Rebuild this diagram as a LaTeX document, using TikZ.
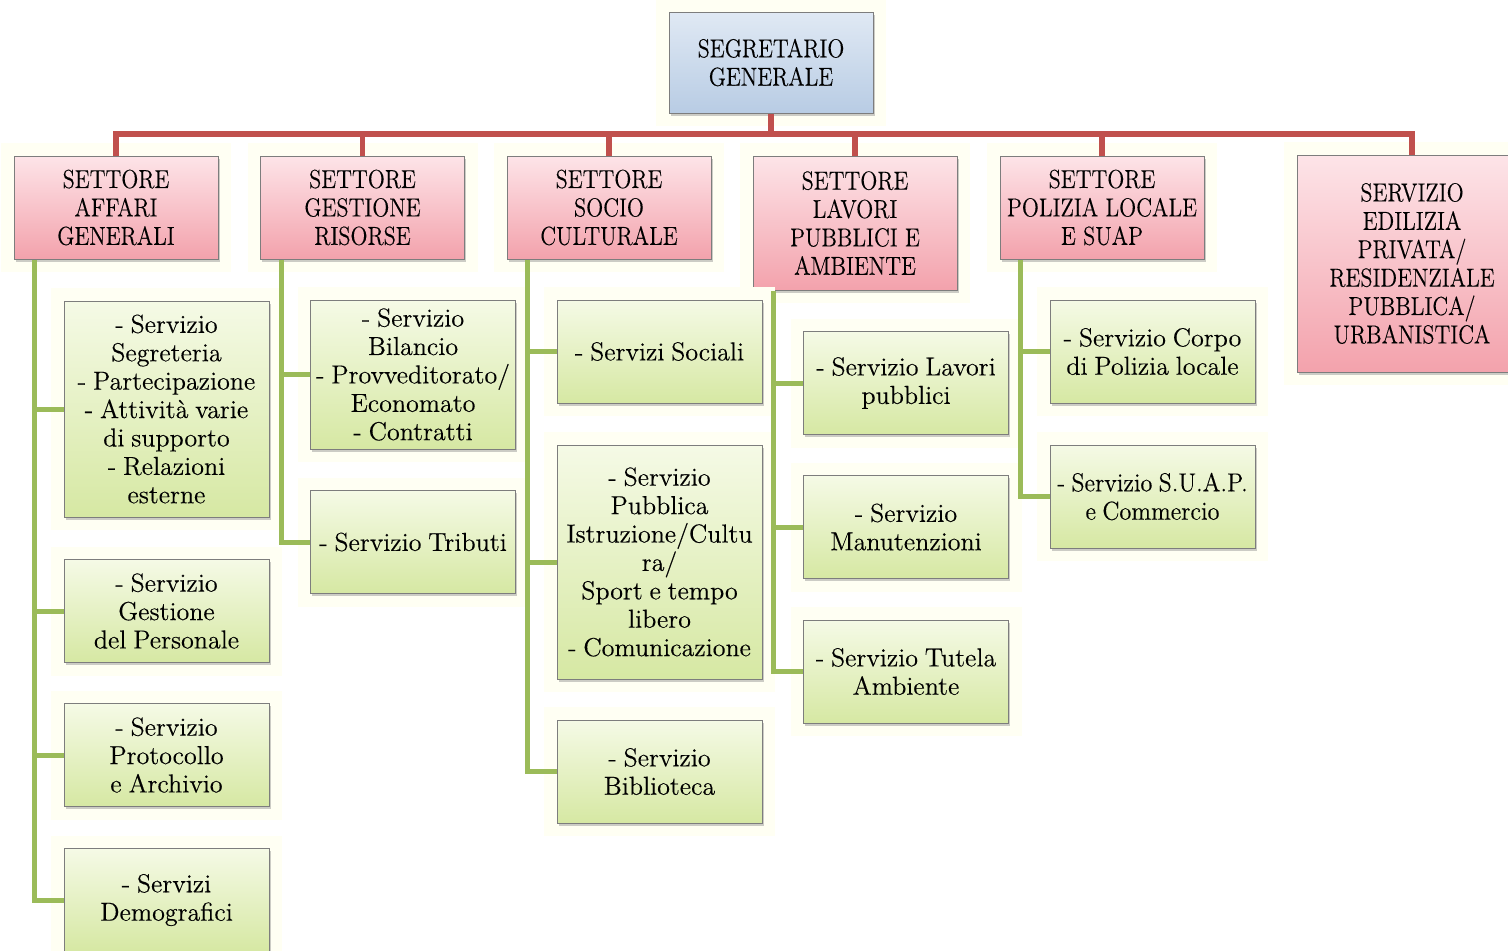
\documentclass[tikz,border=0pt]{standalone}
\usepackage{fontspec}
\setmainfont{Latin Modern Roman}[WordSpace=0.8, FakeBold=0.25]
\newfontfamily\capsfont{Latin Modern Roman}[FakeStretch=0.86, FakeBold=0.25]
\newfontfamily\narrowfont{Latin Modern Roman}[FakeStretch=0.93, WordSpace=0.8, FakeBold=0.25]
\usepackage{tikz}
\usetikzlibrary{positioning,shadows}
\definecolor{busred}{RGB}{192,80,77}
\definecolor{trunkgreen}{RGB}{155,187,89}
\definecolor{cream}{RGB}{255,255,243}
\definecolor{edgegray}{RGB}{125,125,125}
\tikzstyle{box}=[draw=edgegray, line width=0.5pt, align=center, inner sep=0pt,
  minimum width=102pt, minimum height=51.5pt, font=\fontsize{13}{14.2}\selectfont,
  preaction={draw=cream, line width=13pt},
  drop shadow={shadow xshift=0.8pt, shadow yshift=-1.3pt, opacity=0.4}]
\tikzstyle{sgbox}=[box, font=\fontsize{13}{14.2}\selectfont\capsfont, top color={rgb,255:red,224;green,233;blue,244}, bottom color={rgb,255:red,184;green,204;blue,228}]
\tikzstyle{settbox}=[box, font=\fontsize{13}{14.2}\selectfont\capsfont, top color={rgb,255:red,253;green,228;blue,232}, bottom color={rgb,255:red,243;green,162;blue,172}]
\tikzstyle{servbox}=[box, minimum width=102.5pt, top color={rgb,255:red,245;green,250;blue,230}, bottom color={rgb,255:red,214;green,232;blue,163}]
\tikzstyle{redline}=[busred, line width=2.6pt]
\tikzstyle{greenline}=[trunkgreen, line width=2.5pt]

\begin{document}
\begin{tikzpicture}[x=0.5pt, y=-0.5pt]
	\fill[white] (0,0) rectangle (1508,950);
	\clip (0,0) rectangle (1508,950);
	% vertice
	\node[sgbox, minimum height=50.5pt] (sg) at (771, 62.5) {SEGRETARIO\\GENERALE};
	% settori
	\node[settbox] (s1) at (116, 207.5) {SETTORE\\AFFARI\\GENERALI};
	\node[settbox] (s2) at (362.5, 207.5) {SETTORE\\GESTIONE\\RISORSE};
	\node[settbox] (s3) at (609, 207.5) {SETTORE\\SOCIO\\CULTURALE};
	\node[settbox, minimum height=67pt] (s4) at (855, 223) {SETTORE\\LAVORI\\PUBBLICI E\\AMBIENTE};
	\node[settbox] (s5) at (1102, 207.5) {SETTORE\\POLIZIA LOCALE\\E SUAP};
	\node[settbox, minimum width=115pt, minimum height=108.5pt] (s6) at (1412, 263.5) {SERVIZIO\\EDILIZIA\\PRIVATA/\\RESIDENZIALE\\PUBBLICA/\\URBANISTICA};
	% servizi
	\node[servbox, minimum height=108pt] (s1a) at (166.5, 409) {- Servizio\\Segreteria\\- Partecipazione\\- Attività varie\\di supporto\\- Relazioni\\esterne};
	\node[servbox] (s1b) at (166.5, 611) {- Servizio\\Gestione\\del Personale};
	\node[servbox] (s1c) at (166.5, 755) {- Servizio\\Protocollo\\e Archivio};
	\node[servbox] (s1d) at (166.5, 900) {- Servizi\\Demografici};
	\node[servbox, minimum height=74.5pt] (s2a) at (413, 374.5) {- Servizio\\Bilancio\\- Provveditorato/\\Economato\\- Contratti};
	\node[servbox] (s2b) at (413, 542) {- Servizio Tributi};
	\node[servbox] (s3a) at (659.5, 351.5) {- Servizi Sociali};
	\node[servbox, minimum height=117pt] (s3b) at (659.5, 562) {- Servizio\\Pubblica\\Istruzione/Cultu\\ra/\\Sport e tempo\\libero\\- Comunicazione};
	\node[servbox] (s3c) at (659.5, 771.5) {- Servizio\\Biblioteca};
	\node[servbox] (s4a) at (906, 383) {- Servizio Lavori\\pubblici};
	\node[servbox] (s4b) at (906, 527) {- Servizio\\Manutenzioni};
	\node[servbox] (s4c) at (906, 671.5) {- Servizio Tutela\\Ambiente};
	\node[servbox] (s5a) at (1152.5, 351.5) {- Servizio Corpo\\di Polizia locale};
	\node[servbox, font=\fontsize{13}{14.2}\selectfont\narrowfont] (s5b) at (1152.5, 496.5) {- Servizio S.U.A.P.\\e Commercio};
	% linee rosse
	\coordinate (bus) at (771, 134);
	\draw[redline] (sg.south) -- (bus);
	\draw[redline] (s1.north) -- (s1.north |- bus) -- (s6.north |- bus) -- (s6.north);
	\foreach \s in {s2,s3,s4,s5}
		\draw[redline] (\s.north) -- (\s.north |- bus);
	% linee verdi
	\coordinate (t1) at ([xshift=10.5pt]s1.south west);
	\coordinate (t2) at ([xshift=10.5pt]s2.south west);
	\coordinate (t3) at ([xshift=10.5pt]s3.south west);
	\coordinate (t4) at ([xshift=10.5pt]s4.south west);
	\coordinate (t5) at ([xshift=10.5pt]s5.south west);
	\draw[greenline] (t1) |- (s1d.west);
	\foreach \c in {s1a,s1b,s1c}
		\draw[greenline] (t1 |- \c.west) -- (\c.west);
	\draw[greenline] (t2) |- (s2b.west);
	\draw[greenline] (t2 |- s2a.west) -- (s2a.west);
	\draw[greenline] (t3) |- (s3c.west);
	\draw[greenline] (t3 |- s3a.west) -- (s3a.west);
	\draw[greenline] (t3 |- s3b.west) -- (s3b.west);
	\draw[greenline] (t4) |- (s4c.west);
	\draw[greenline] (t4 |- s4a.west) -- (s4a.west);
	\draw[greenline] (t4 |- s4b.west) -- (s4b.west);
	\draw[greenline] (t5) |- (s5b.west);
	\draw[greenline] (t5 |- s5a.west) -- (s5a.west);
\end{tikzpicture}
\end{document}
